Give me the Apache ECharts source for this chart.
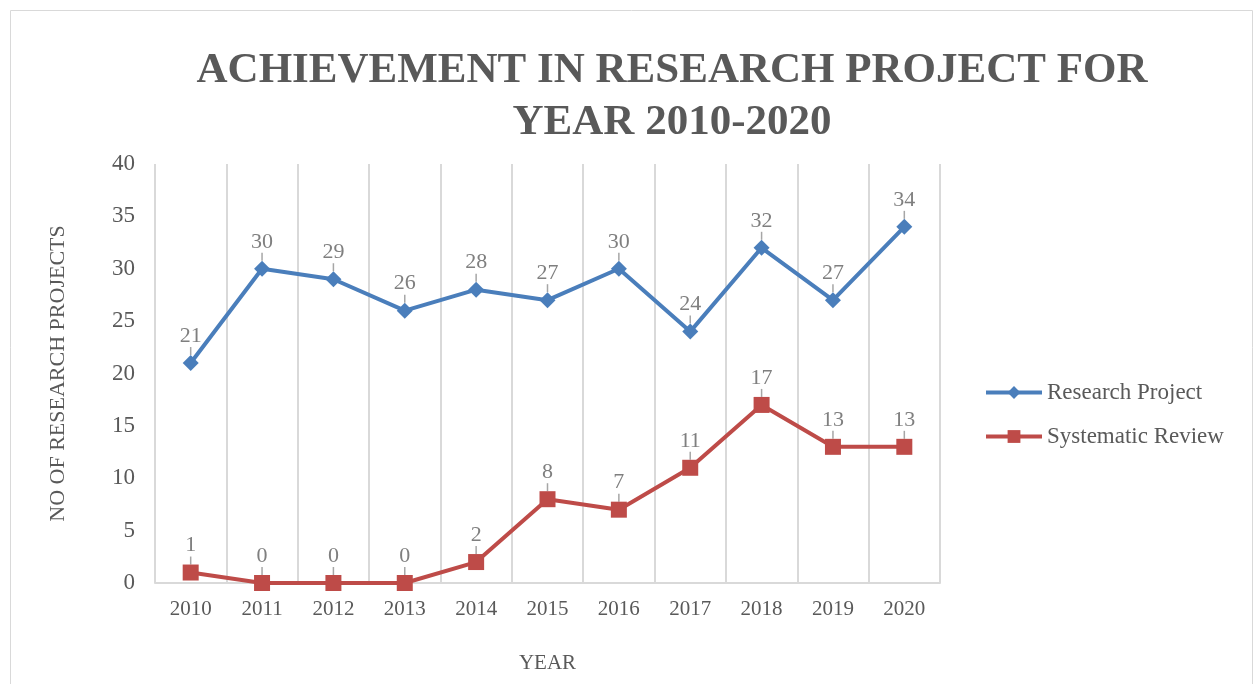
<!DOCTYPE html>
<html><head><meta charset="utf-8">
<script src="https://cdn.jsdelivr.net/npm/echarts@6/dist/echarts.min.js"></script>
<style>html,body{margin:0;padding:0;background:#fff}#c{width:1255px;height:684px}</style>
</head><body><div id="c"></div>
<script>
var years = ['2010','2011','2012','2013','2014','2015','2016','2017','2018','2019','2020'];
var researchProject = [21,30,29,26,28,27,30,24,32,27,34];
var systematicReview = [1,0,0,0,2,8,7,11,17,13,13];
var yTicks = {min:0, max:40, interval:5};

var serif = '"Liberation Serif","DejaVu Serif",serif';
var chart = echarts.init(document.getElementById('c'));
function lbl(){
  return {show:true, position:'top', distance:1, color:'#7f7f7f', fontFamily:serif, fontSize:22};
}
chart.setOption({
  animation:false,
  graphic:[{type:'rect', shape:{x:10.5,y:10.5,width:1242,height:690}, style:{fill:'none', stroke:'#d9d9d9', lineWidth:1}, z:-1}],
  title:{text:'ACHIEVEMENT IN RESEARCH PROJECT FOR\nYEAR 2010-2020', left:667, top:40, textAlign:'center',
    textStyle:{fontFamily:serif, fontWeight:'bold', fontSize:43, color:'#595959', lineHeight:52}},
  legend:{orient:'vertical', left:979, top:376, itemGap:21, itemWidth:56, itemHeight:16,
    lineStyle:{width:4},
    textStyle:{fontFamily:serif, fontSize:23, color:'#595959'},
    data:['Research Project','Systematic Review']},
  grid:{left:155, right:315, top:164, bottom:101},
  xAxis:{type:'category', data:years, boundaryGap:true, name:'YEAR', nameLocation:'middle', nameGap:70,
    nameTextStyle:{fontFamily:serif, fontSize:21, color:'#595959'},
    axisLine:{lineStyle:{color:'#d9d9d9', width:2}}, axisTick:{show:false},
    axisLabel:{fontFamily:serif, fontSize:21, color:'#595959', margin:16},
    splitLine:{show:true, interval:0, lineStyle:{color:'#d9d9d9', width:2}}},
  yAxis:{type:'value', min:yTicks.min, max:yTicks.max, interval:yTicks.interval,
    name:'NO OF RESEARCH PROJECTS', nameLocation:'middle', nameGap:86,
    nameTextStyle:{fontFamily:serif, fontSize:22, color:'#595959'},
    axisLine:{show:false}, axisTick:{show:false}, splitLine:{show:false},
    axisLabel:{fontFamily:serif, fontSize:23, color:'#595959', margin:20}},
  series:[
    {name:'Research Project', type:'line', data:researchProject, symbol:'diamond', symbolSize:16,
     lineStyle:{color:'#4a7ebb', width:4}, itemStyle:{color:'#4a7ebb'},
     label:lbl(), labelLayout:{dy:-7}, labelLine:{show:true, lineStyle:{color:'#a6a6a6', width:1.5}}},
    {name:'Systematic Review', type:'line', data:systematicReview, symbol:'rect', symbolSize:16,
     lineStyle:{color:'#be4b48', width:4}, itemStyle:{color:'#be4b48'},
     label:lbl(), labelLayout:{dy:-7}, labelLine:{show:true, lineStyle:{color:'#a6a6a6', width:1.5}}}
  ]
});
</script></body></html>
